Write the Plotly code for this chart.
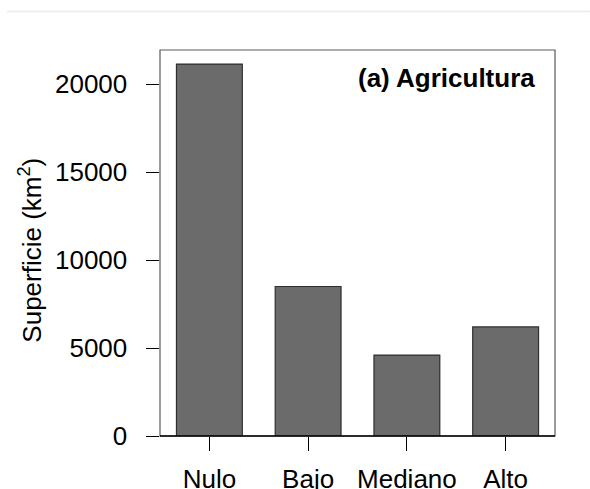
import plotly.graph_objects as go

# Superficie por nivel de impacto agrícola
categorias = ["Nulo", "Bajo", "Mediano", "Alto"]
superficie = [21150, 8500, 4600, 6200]
y_ticks = [0, 5000, 10000, 15000, 20000]
y_tick_labels = ["0", "5000", "10000", "15000", "20000"]

FONT = "Liberation Sans, Arial, Helvetica, sans-serif"
FS = 26

W, H = 590, 489
ML, MR, MT, MB = 159.5, 35, 50, 53
pw = W - ML - MR
ph = H - MT - MB

fig = go.Figure()
fig.add_trace(go.Bar(
    x=categorias,
    y=superficie,
    marker=dict(color="#6b6b6b", line=dict(color="#2e2e2e", width=1.2)),
    showlegend=False,
    hoverinfo="x+y",
))

fig.update_layout(
    width=W, height=H,
    margin=dict(l=ML, r=MR, t=MT, b=MB, pad=0, autoexpand=False),
    paper_bgcolor="white",
    plot_bgcolor="white",
    bargap=1/3,
    font=dict(family=FONT, size=FS, color="black"),
)

fig.update_xaxes(
    range=[-0.5, 3.5],
    automargin=False,
    showgrid=False, zeroline=False,
    showline=False,
    ticks="outside", ticklen=14, tickwidth=1, tickcolor="black",
    tickfont=dict(family=FONT, size=FS, color="black"),
    ticklabelstandoff=6,
)

ymax = 21950
fig.update_yaxes(
    range=[0, ymax],
    automargin=False,
    showgrid=False, zeroline=False, showline=False,
    tickmode="array", tickvals=y_ticks, ticktext=y_tick_labels,
    ticks="outside", ticklen=13.5, tickwidth=1, tickcolor="black",
    tickfont=dict(family=FONT, size=FS, color="black"),
    ticklabelstandoff=13,
)

# plot frame: grey sides/top, black baseline
fig.add_shape(type="rect", xref="paper", yref="paper", x0=0, x1=1, y0=0, y1=1,
              line=dict(color="#5a5a5a", width=1.2), layer="above")
fig.add_shape(type="line", xref="paper", yref="paper", x0=0, x1=1, y0=0, y1=0,
              line=dict(color="black", width=1.3), layer="above")

# faint rule across the top of the page
fig.add_shape(type="line", xref="paper", yref="paper",
              x0=(6 - ML) / pw, x1=(W - ML) / pw,
              y0=1 + (MT - 11.5) / ph, y1=1 + (MT - 11.5) / ph,
              line=dict(color="#ececec", width=1.5))

# panel title
fig.add_annotation(
    text="<b>(a) Agricultura</b>", xref="paper", yref="paper",
    x=(537 - ML) / pw, y=1 - (78 - MT) / ph,
    xanchor="right", yanchor="middle", showarrow=False,
    font=dict(family=FONT, size=FS, color="black"),
)

# y-axis title
fig.add_annotation(
    text="Superficie (km<sup>2</sup>)", xref="paper", yref="paper",
    x=(29 - ML) / pw, y=(H - MB - 250) / ph,
    xanchor="center", yanchor="middle", textangle=-90, showarrow=False,
    font=dict(family=FONT, size=FS, color="black"),
)

fig.write_html("out.html")
